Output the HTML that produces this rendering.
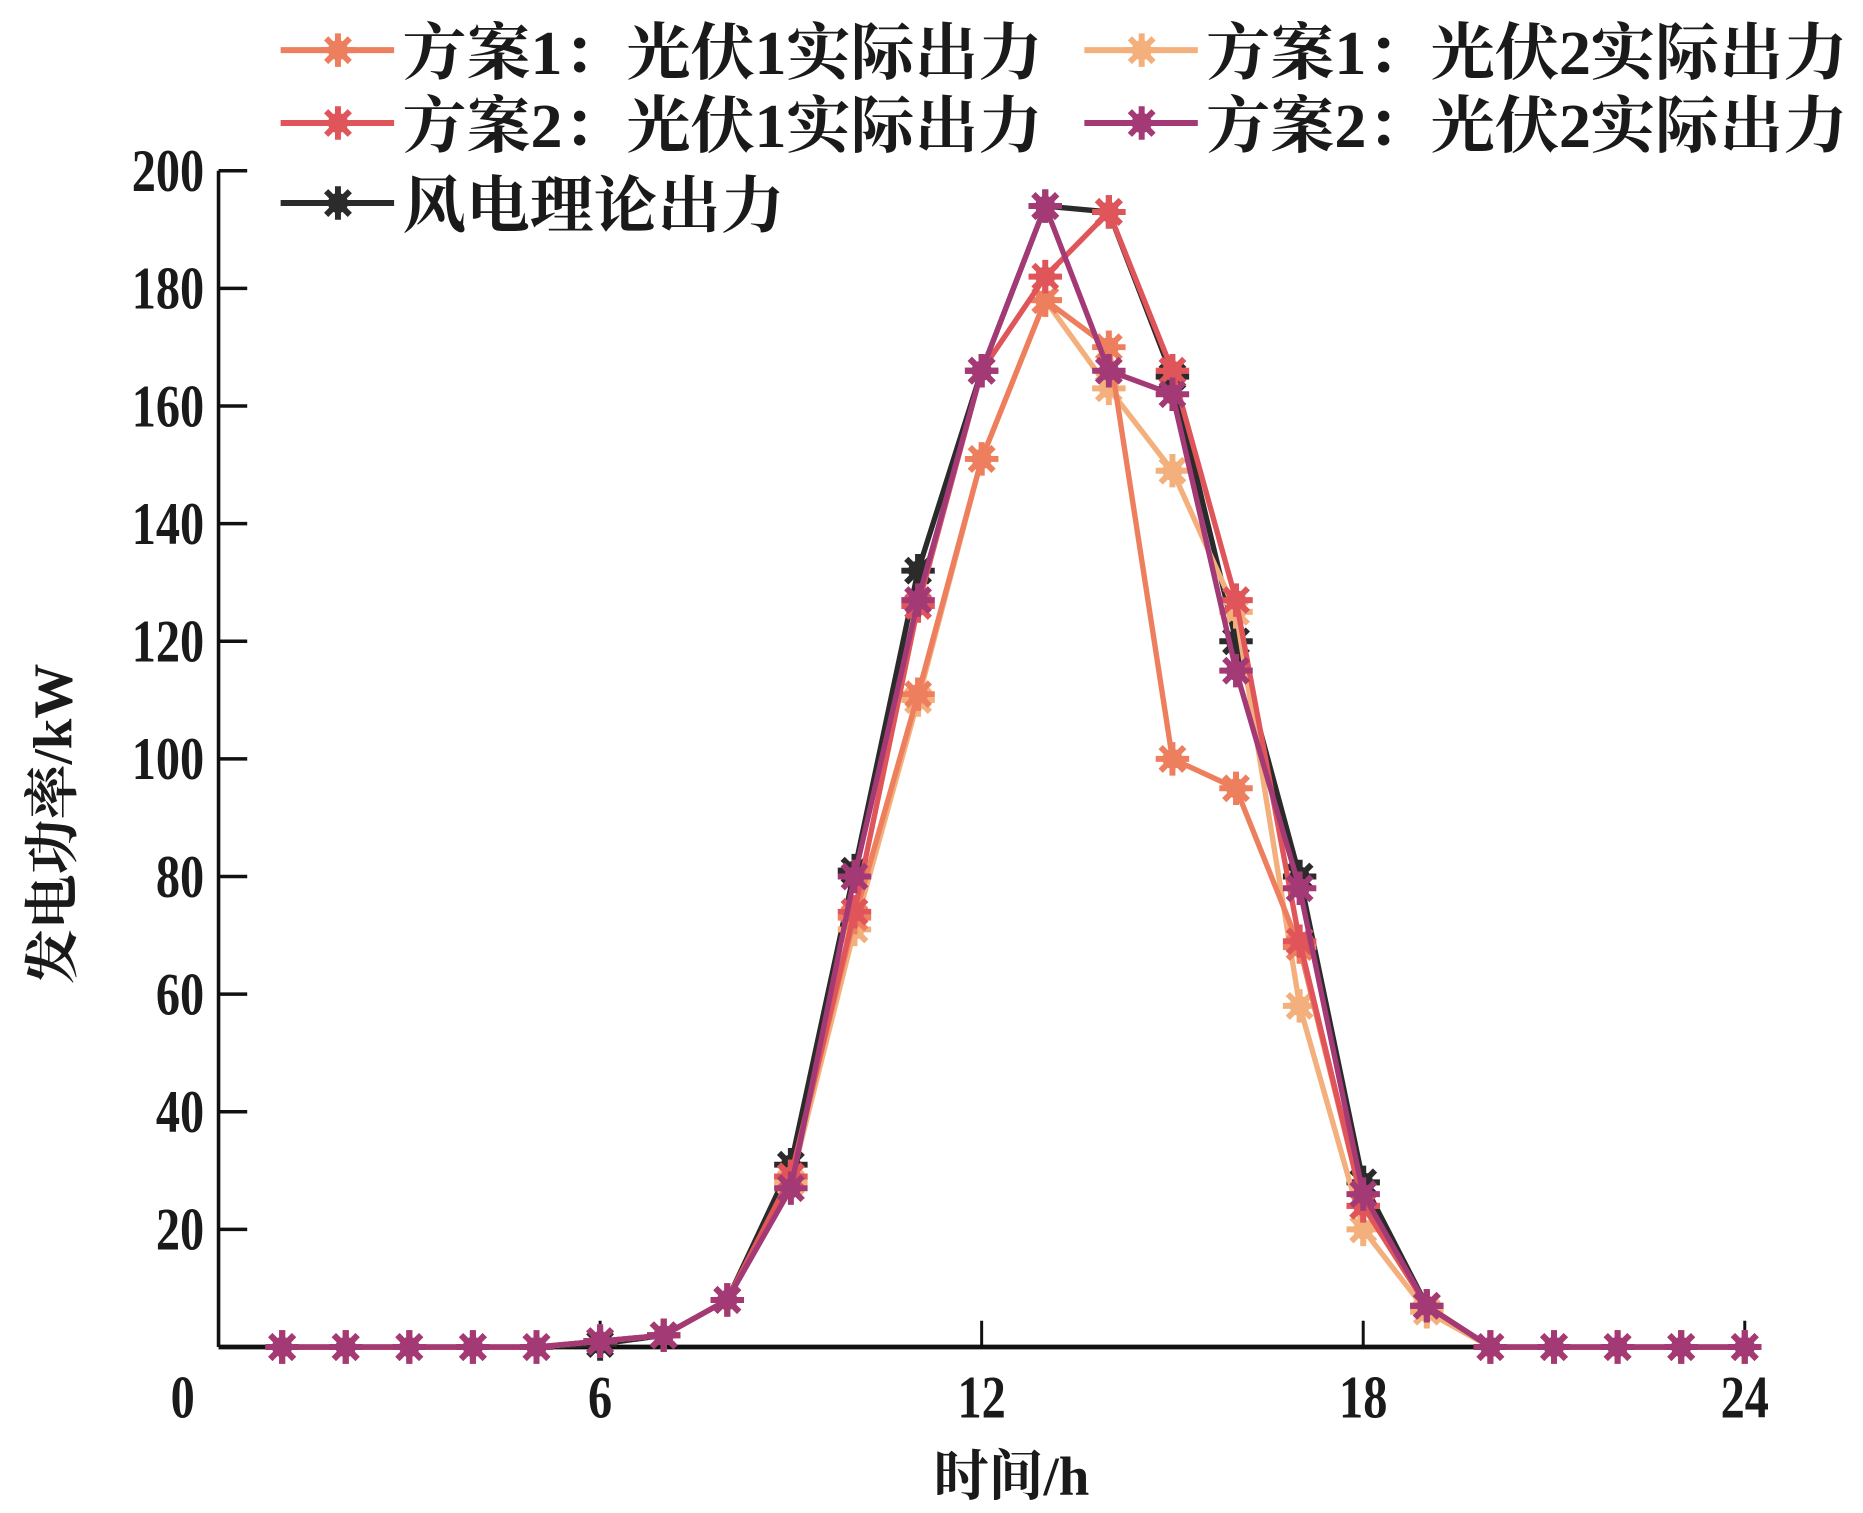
<!DOCTYPE html>
<html><head><meta charset="utf-8"><style>
html,body{margin:0;padding:0;background:#fff;}
svg{display:block;}
text{font-family:"Liberation Serif","Noto Serif CJK SC",serif;fill:#1a1a1a;}
</style></head><body>
<svg id="chart" width="1863" height="1513" viewBox="0 0 1560 1267" preserveAspectRatio="none" xmlns="http://www.w3.org/2000/svg">
<g id="axes"></g>
<g id="series"></g>
<g id="legend"></g>
<text x="847" y="1252" font-size="46" text-anchor="middle" font-weight="bold">时间/h</text>
<text transform="translate(60,690) rotate(-90)" font-size="46" text-anchor="middle" font-weight="bold">发电功率/kW</text>
</svg>
<script>
const hours=[1,2,3,4,5,6,7,8,9,10,11,12,13,14,15,16,17,18,19,20,21,22,23,24];
const windTheory=[0,0,0,0,0,0.5,2,8,31,81,132,166,194,193,165,120,80,28,7,0,0,0,0,0];
const s1pv1=[0,0,0,0,0,1,2,8,29,73,111,151,178,170,100,95,68,24,7,0,0,0,0,0];
const s1pv2=[0,0,0,0,0,1,2,8,28,71,110,151,178,163,149,125,58,20,6,0,0,0,0,0];
const s2pv1=[0,0,0,0,0,1,2,8,29,74,126,166,182,193,166,127,69,24,7,0,0,0,0,0];
const s2pv2=[0,0,0,0,0,1,2,8,27,80,127,166,194,166,162,115,78,26,7,0,0,0,0,0];
const xTicks=[0,6,12,18,24];
const yTicks=[20,40,60,80,100,120,140,160,180,200];
const seriesNames=["风电理论出力","方案1：光伏2实际出力","方案1：光伏1实际出力","方案2：光伏1实际出力","方案2：光伏2实际出力"];
const NS="http://www.w3.org/2000/svg";
const X0=183,X1=1461,Y0=1128,Y1=143;
const xs=h=>X0+(X1-X0)*h/24;
const ys=v=>Y0-(Y0-Y1)*v/200;
function mk(tag,attrs,parent){const e=document.createElementNS(NS,tag);for(const k in attrs)e.setAttribute(k,attrs[k]);parent.appendChild(e);return e;}
const axes=document.getElementById('axes');
let l=mk('line',{x1:X0,y1:Y1,x2:X0,y2:Y0,stroke:'#111','stroke-width':3},axes);


l=mk('line',{x1:X0,y1:Y0,x2:X1,y2:Y0,stroke:'#111','stroke-width':4},axes);


yTicks.forEach(v=>{
 const t=mk('line',{x1:X0,y1:ys(v),x2:X0+24,y2:ys(v),stroke:'#111','stroke-width':3},axes);
 
 
 const tx=mk('text',{transform:'translate('+(X0-12)+','+(ys(v)+17)+') scale(0.92,1.15)','font-size':44,'text-anchor':'end','font-weight':'bold'},axes);
 tx.textContent=v;
 
 
});
xTicks.forEach(v=>{
 if(v>0){const t=mk('line',{x1:xs(v),y1:Y0,x2:xs(v),y2:Y0-22,stroke:'#111','stroke-width':2.5},axes);
 
 }
 const tx=mk('text',{transform:'translate('+(v===0?153:xs(v))+',1187) scale(0.92,1.15)','font-size':44,'text-anchor':'middle','font-weight':'bold'},axes);
 tx.textContent=v;
 
 
});
function marker(g,x,y,c,r){
 for(let i=0;i<4;i++){const a=i*Math.PI/4;
  mk('line',{x1:x-r*Math.cos(a),y1:y-r*Math.sin(a),x2:x+r*Math.cos(a),y2:y+r*Math.sin(a),stroke:c,'stroke-width':5},g);}
 mk('circle',{cx:x,cy:y,r:r*0.6,fill:c},g);
}
const ser=document.getElementById('series');
const defs=[[windTheory,'#2b2b2b','series-wind-theory'],[s1pv2,'#f4b07c','series-s1-pv2'],[s1pv1,'#ee7f5e','series-s1-pv1'],[s2pv1,'#e0555a','series-s2-pv1'],[s2pv2,'#a33a76','series-s2-pv2']];
defs.forEach(([d,c,n])=>{
 const g=mk('g',{},ser);
 
 
 const pts=hours.map((h,i)=>xs(h)+','+ys(d[i])).join(' ');
 mk('polyline',{points:pts,fill:'none',stroke:c,'stroke-width':4.5},g);
 hours.forEach((h,i)=>marker(g,xs(h),ys(d[i]),c,14));
});
const leg=document.getElementById('legend');
const legItems=[[2,235,42,536],[1,908,42,537],[3,235,103,536],[4,908,103,537],[0,235,170,320]];
const legColors=['#2b2b2b','#f4b07c','#ee7f5e','#e0555a','#a33a76'];
legItems.forEach(([k,x,y,w])=>{
 const g=mk('g',{},leg);
 
 
 mk('line',{x1:x,y1:y,x2:x+95,y2:y,stroke:legColors[k],'stroke-width':5},g);
 marker(g,x+48,y,legColors[k],14);
 const t=mk('text',{x:x+102,y:y+20,'font-size':52,'font-weight':'bold',textLength:w,lengthAdjust:'spacingAndGlyphs'},g);
 t.textContent=seriesNames[k];
});
</script>
</body></html>
